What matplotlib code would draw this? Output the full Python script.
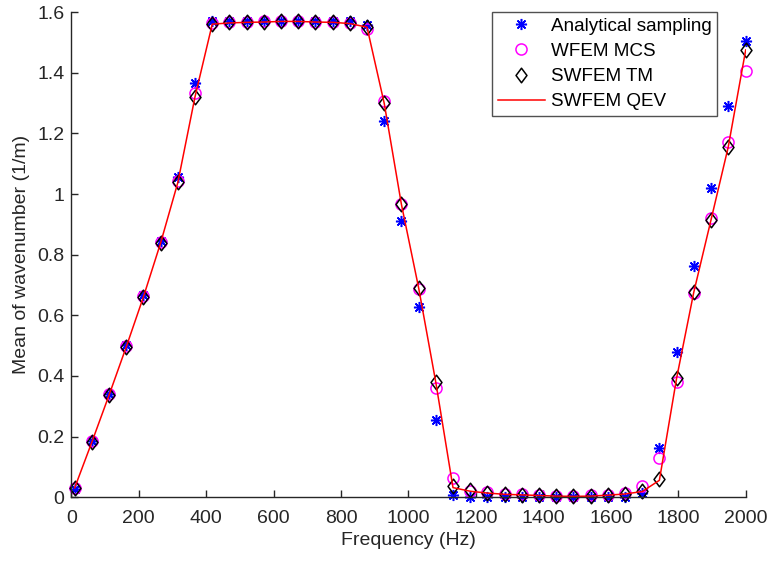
import matplotlib
matplotlib.use("Agg")
import matplotlib.pyplot as plt
from matplotlib.path import Path

# Frequency samples (Hz)
freq = [10, 61, 112, 163, 214, 265, 316, 367, 418, 469,
        520, 571, 622, 673, 724, 775, 826, 877, 928, 979,
        1030, 1081, 1132, 1183, 1234, 1285, 1336, 1387, 1438, 1489,
        1540, 1591, 1642, 1693, 1744, 1795, 1846, 1897, 1948, 2000]

analytical = [0.028, 0.186, 0.342, 0.502, 0.666, 0.846, 1.057, 1.365, 1.572, 1.572,
              1.572, 1.572, 1.572, 1.572, 1.572, 1.571, 1.571, 1.556, 1.241, 0.911,
              0.627, 0.254, 0.008, 0.001, 0.000, 0.000, 0.000, 0.000, 0.000, 0.000,
              0.000, 0.000, 0.002, 0.013, 0.161, 0.480, 0.763, 1.019, 1.291, 1.505]

wfem_mcs = [0.030, 0.185, 0.340, 0.498, 0.663, 0.842, 1.042, 1.332, 1.565, 1.567,
            1.568, 1.569, 1.570, 1.570, 1.568, 1.567, 1.563, 1.544, 1.308, 0.968,
            0.688, 0.359, 0.064, 0.022, 0.016, 0.012, 0.010, 0.007, 0.005, 0.004,
            0.006, 0.009, 0.014, 0.036, 0.130, 0.380, 0.672, 0.920, 1.173, 1.404]

swfem_tm = [0.031, 0.182, 0.337, 0.496, 0.661, 0.839, 1.038, 1.321, 1.560, 1.566,
            1.568, 1.568, 1.570, 1.571, 1.568, 1.567, 1.563, 1.550, 1.299, 0.966,
            0.691, 0.379, 0.036, 0.023, 0.015, 0.010, 0.008, 0.006, 0.004, 0.003,
            0.005, 0.008, 0.012, 0.022, 0.059, 0.392, 0.676, 0.914, 1.154, 1.475]

swfem_qev = [0.031, 0.182, 0.337, 0.496, 0.661, 0.839, 1.038, 1.321, 1.560, 1.564,
             1.566, 1.567, 1.569, 1.569, 1.567, 1.566, 1.562, 1.550, 1.299, 0.966,
             0.691, 0.379, 0.032, 0.020, 0.014, 0.010, 0.008, 0.006, 0.004, 0.003,
             0.004, 0.007, 0.011, 0.019, 0.056, 0.392, 0.676, 0.914, 1.154, 1.475]

plt.rcParams["font.family"] = ["Liberation Sans", "DejaVu Sans"]
TXT = "#262626"
FS = 14

# MATLAB-like diamond: a bit taller than wide
diamond = Path([(0, 1), (0.75, 0), (0, -1), (-0.75, 0), (0, 1)],
               [Path.MOVETO, Path.LINETO, Path.LINETO, Path.LINETO, Path.CLOSEPOLY])

fig = plt.figure(figsize=(7.69, 5.62), dpi=100)
ax = fig.add_axes([0.0927, 0.1151, 0.877, 0.8635])

ax.plot(freq, analytical, linestyle="none", marker=(8, 2, 0), markersize=8,
        markeredgewidth=1.1, color="#0000ff", label="Analytical sampling", clip_on=False)
ax.plot(freq, wfem_mcs, linestyle="none", marker="o", markersize=8,
        markerfacecolor="none", markeredgecolor="#ff00ff", markeredgewidth=1.1,
        label="WFEM MCS", clip_on=False)
ax.plot(freq, swfem_tm, linestyle="none", marker=diamond, markersize=10.5,
        markerfacecolor="none", markeredgecolor="black", markeredgewidth=1.1,
        label="SWFEM TM", clip_on=False)
ax.plot(freq, swfem_qev, color="#ff0000", linewidth=1.1, label="SWFEM QEV")

ax.set_xlim(0, 2000)
ax.set_ylim(0, 1.6)
ax.set_xticks(range(0, 2001, 200))
ax.set_yticks([0, 0.2, 0.4, 0.6, 0.8, 1.0, 1.2, 1.4, 1.6])
ax.set_yticklabels(["0", "0.2", "0.4", "0.6", "0.8", "1", "1.2", "1.4", "1.6"])

for side in ("top", "right"):
    ax.spines[side].set_visible(False)
for side in ("left", "bottom"):
    ax.spines[side].set_color(TXT)
    ax.spines[side].set_linewidth(1.0)
ax.tick_params(direction="in", length=5, width=1.0, colors=TXT,
               labelsize=FS, labelcolor=TXT)
ax.tick_params(axis="x", pad=9)
ax.tick_params(axis="y", pad=5)

ax.set_xlabel("Frequency (Hz)", fontsize=FS, color=TXT, labelpad=4)
ax.set_ylabel("Mean of wavenumber (1/m)", fontsize=FS, color=TXT, labelpad=5)

leg = ax.legend(loc="upper right", bbox_to_anchor=(717 / 769, 1 - 12 / 562),
                bbox_transform=fig.transFigure, borderaxespad=0, fontsize=13.6,
                frameon=True, fancybox=False, edgecolor=TXT, handlelength=2.5,
                handletextpad=0.3, labelspacing=0.42, borderpad=0.3)
leg.get_frame().set_linewidth(1.0)

fig.savefig("out.png", dpi=100)
